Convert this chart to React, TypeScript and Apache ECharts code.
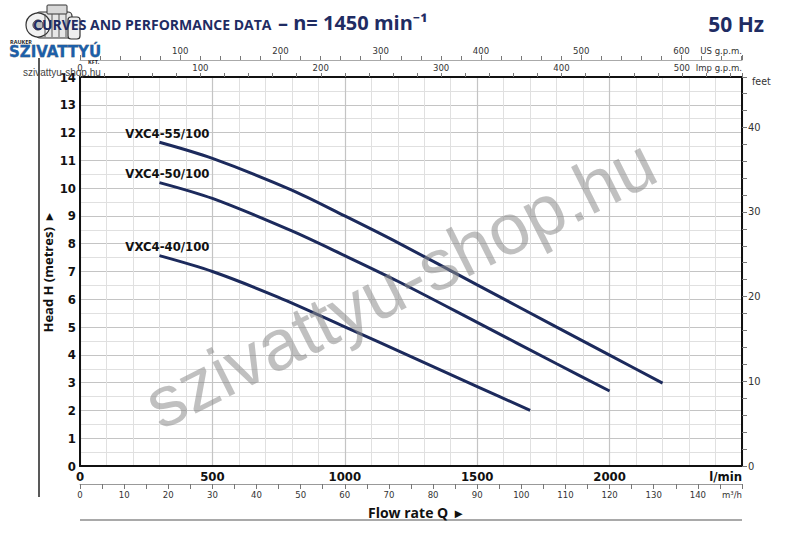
import React, { useEffect, useRef } from 'react';
import * as echarts from 'echarts';

// ---- data ----
const curveNames = ['VXC4-55/100', 'VXC4-50/100', 'VXC4-40/100'];
const flow55 = [300, 500, 800, 1000, 1200, 1500, 1800, 2000, 2200];
const head55 = [11.65, 11.07, 9.93, 9.0, 8.04, 6.52, 5.0, 3.99, 2.98];
const flow50 = [300, 500, 800, 1000, 1200, 1500, 1800, 2000];
const head50 = [10.2, 9.63, 8.46, 7.57, 6.65, 5.17, 3.68, 2.7];
const flow40 = [300, 500, 750, 1000, 1250, 1500, 1700];
const head40 = [7.57, 7.0, 6.07, 5.01, 3.94, 2.86, 2.0];

const flowMaxLmin = 2500;
const headMaxM = 14;
const LMIN_TO_USGPM = 0.264172;
const LMIN_TO_IMPGPM = 0.219969;
const LMIN_TO_M3H = 0.06;
const M_TO_FT = 3.28084;

const titleText = 'CURVES AND PERFORMANCE DATA';
const speedText = '– n= 1450 min⁻¹';
const freqText = '50 Hz';
const watermark = 'szivattyu-shop.hu';

const NAVY = '#1f2c63';
const LINE = '#1c2a5c';
const COND = '"Liberation Sans Narrow", "DejaVu Sans Condensed", "Roboto Condensed", "Liberation Sans", sans-serif';
const SANS = '"Open Sans", "Noto Sans", sans-serif';

const curves = [
  { name: curveNames[0], flow: flow55, head: head55 },
  { name: curveNames[1], flow: flow50, head: head50 },
  { name: curveNames[2], flow: flow40, head: head40 },
];

export default function App() {
  const ref = useRef<HTMLDivElement>(null);
  useEffect(() => {
    if (!ref.current) return;
    const chart = echarts.init(ref.current, undefined, { renderer: 'svg' });
    const usMax = flowMaxLmin * LMIN_TO_USGPM;
    const impMax = flowMaxLmin * LMIN_TO_IMPGPM;
    const m3Max = flowMaxLmin * LMIN_TO_M3H;
    const ftMax = headMaxM * M_TO_FT;

    const smallLabel = { color: '#333', fontSize: 9.5, fontFamily: COND };

    chart.setOption({
      animation: false,
      backgroundColor: '#fff',
      grid: { left: 80, right: 58, top: 77, bottom: 70, containLabel: false, outerBoundsMode: 'none' },
      xAxis: [
        {
          type: 'value', position: 'bottom', min: 0, max: flowMaxLmin, interval: 500,
          axisLine: { onZero: false, lineStyle: { color: '#111', width: 2 } },
          axisTick: { show: false },
          axisLabel: {
            margin: 4, color: '#111', fontSize: 13, fontWeight: 'bold', fontFamily: COND,
            formatter: (v: number) => (v === flowMaxLmin ? 'l/min' : String(v)),
            alignMaxLabel: 'right',
          },
          splitLine: { show: true, lineStyle: { color: '#c4c4c4', width: 1.2 } },
          minorTick: { show: false, splitNumber: 5 },
          minorSplitLine: { show: true, lineStyle: { color: '#e0e0e0', width: 1 } },
        },
        {
          type: 'value', position: 'bottom', offset: 18, min: 0, max: m3Max, interval: 10,
          axisLine: { onZero: false, lineStyle: { color: '#999', width: 1 } },
          axisTick: { show: true, length: 5, lineStyle: { color: '#777' } },
          minorTick: { show: true, splitNumber: 2, length: 5, lineStyle: { color: '#777' } },
          axisLabel: {
            ...smallLabel, margin: 5,
            formatter: (v: number) => (v === m3Max ? 'm³/h' : String(v)),
            alignMaxLabel: 'right',
          },
          splitLine: { show: false },
        },
        {
          type: 'value', position: 'top', offset: 0, min: 0, max: impMax, interval: 100,
          axisLine: { onZero: false, lineStyle: { color: '#111', width: 2 } },
          axisTick: { show: true, length: 4, lineStyle: { color: '#777' } },
          minorTick: { show: true, splitNumber: 5, length: 4, lineStyle: { color: '#777' } },
          axisLabel: {
            ...smallLabel, margin: 5,
            formatter: (v: number) => (v === impMax ? 'Imp g.p.m.' : v % 100 === 0 ? String(v) : ''),
            alignMaxLabel: 'right',
          },
          splitLine: { show: false },
        },
        {
          type: 'value', position: 'top', offset: 17, min: 0, max: usMax, interval: 100,
          axisLine: { onZero: false, lineStyle: { color: '#aaa', width: 1 } },
          axisTick: { show: true, length: 5, lineStyle: { color: '#777' } },
          minorTick: { show: true, splitNumber: 5, length: 4, lineStyle: { color: '#777' } },
          axisLabel: {
            ...smallLabel, margin: 5,
            formatter: (v: number) => (v === usMax ? 'US g.p.m.' : v === 0 ? '' : v % 100 === 0 ? String(v) : ''),
            alignMaxLabel: 'right',
          },
          splitLine: { show: false },
        },
      ],
      yAxis: [
        {
          type: 'value', position: 'left', min: 0, max: headMaxM, interval: 1,
          axisLine: { onZero: false, lineStyle: { color: '#111', width: 2 } },
          axisTick: { show: false },
          axisLabel: { margin: 4, color: '#111', fontSize: 13, fontWeight: 'bold', fontFamily: COND },
          splitLine: { show: true, lineStyle: { color: '#c4c4c4', width: 1.2 } },
          minorTick: { show: false, splitNumber: 2 },
          minorSplitLine: { show: true, lineStyle: { color: '#e0e0e0', width: 1 } },
        },
        {
          type: 'value', position: 'right', min: 0, max: ftMax, interval: 10,
          axisLine: { onZero: false, lineStyle: { color: '#111', width: 2 } },
          axisTick: { show: true, length: 5, lineStyle: { color: '#777' } },
          minorTick: { show: true, splitNumber: 5, length: 5, lineStyle: { color: '#777' } },
          axisLabel: {
            ...smallLabel, fontSize: 11, margin: 6,
            formatter: (v: number) => (v % 10 === 0 ? String(v) : ''),
          },
          splitLine: { show: false },
          name: 'feet', nameLocation: 'end', nameGap: -4,
          nameTextStyle: { ...smallLabel, fontSize: 10.5, align: 'left', verticalAlign: 'middle', padding: [0, 0, 0, 10] },
        },
      ],
      series: curves.map((c) => ({
        type: 'line',
        name: c.name,
        xAxisIndex: 0,
        yAxisIndex: 0,
        smooth: 0.3,
        symbol: 'none',
        showSymbol: false,
        data: c.flow.map((f, i) => [f, c.head[i]]),
        lineStyle: { color: LINE, width: 3 },
        z: 3,
        markPoint: {
          symbol: 'circle',
          symbolSize: 0,
          silent: true,
          data: [{ coord: [c.flow[0], c.head[0]], name: c.name }],
          label: {
            show: true,
            formatter: c.name,
            position: 'inside',
            offset: [8, -9],
            color: '#111',
            fontSize: 13,
            fontWeight: 'bold',
            fontFamily: COND,
          },
        },
      })),
      graphic: [
        // title
        { type: 'text', x: 33, y: 24, z: 10, style: { text: titleText, fill: NAVY, fontSize: 14, fontWeight: 'bold', fontFamily: SANS, align: 'left', verticalAlign: 'middle' } },
        { type: 'text', x: 278, y: 22, z: 10, style: { text: speedText, fill: NAVY, fontSize: 20, fontWeight: 'bold', fontFamily: SANS, align: 'left', verticalAlign: 'middle' } },
        { type: 'text', x: 764, y: 24, z: 10, style: { text: freqText, fill: NAVY, fontSize: 21, fontWeight: 'bold', fontFamily: SANS, align: 'right', verticalAlign: 'middle' } },
        // logo (motor sketch)
        {
          type: 'group', z: 20, children: [
            { type: 'rect', shape: { x: 36, y: 12, width: 36, height: 26, r: 4 }, style: { fill: '#e6e6e6', stroke: '#333', lineWidth: 1.2 } },
            { type: 'circle', shape: { cx: 38, cy: 25, r: 12 }, style: { fill: '#f2f2f2', stroke: '#333', lineWidth: 1.2 } },
            { type: 'rect', shape: { x: 47, y: 5, width: 20, height: 9, r: 1 }, style: { fill: '#d8d8d8', stroke: '#333', lineWidth: 1 } },
            { type: 'rect', shape: { x: 68, y: 17, width: 12, height: 22, r: 3 }, style: { fill: '#eee', stroke: '#333', lineWidth: 1.2 } },
            { type: 'line', shape: { x1: 45, y1: 14, x2: 45, y2: 37 }, style: { stroke: '#555', lineWidth: 1 } },
            { type: 'line', shape: { x1: 52, y1: 14, x2: 52, y2: 37 }, style: { stroke: '#555', lineWidth: 1 } },
            { type: 'line', shape: { x1: 59, y1: 14, x2: 59, y2: 37 }, style: { stroke: '#555', lineWidth: 1 } },
            { type: 'line', shape: { x1: 66, y1: 14, x2: 66, y2: 37 }, style: { stroke: '#555', lineWidth: 1 } },
            { type: 'circle', shape: { cx: 38, cy: 25, r: 5 }, style: { fill: '#bbb', stroke: '#333', lineWidth: 1 } },
          ],
        },
        { type: 'text', x: 10, y: 42, z: 20, style: { text: 'RAUKER', fill: '#222', fontSize: 5.5, fontWeight: 'bold', fontFamily: SANS, align: 'left', verticalAlign: 'middle' } },
        { type: 'text', x: 9, y: 52, z: 20, style: { text: 'SZIVATTYÚ', fill: '#1d5fa8', stroke: '#123', lineWidth: 0.3, fontSize: 15, fontWeight: 'bold', fontFamily: '"DejaVu Sans", sans-serif', align: 'left', verticalAlign: 'middle' } },
        { type: 'text', x: 88, y: 62, z: 20, style: { text: 'KFT.', fill: '#222', fontSize: 5.5, fontWeight: 'bold', fontFamily: SANS, align: 'left', verticalAlign: 'middle' } },
        { type: 'text', x: 23, y: 72, z: 20, style: { text: watermark, fill: '#444', fontSize: 10, fontFamily: '"Liberation Sans", sans-serif', align: 'left', verticalAlign: 'middle' } },
        // frame lines
        { type: 'line', z: 5, shape: { x1: 39, y1: 58, x2: 39, y2: 497 }, style: { stroke: '#222', lineWidth: 1.5 } },
        { type: 'line', z: 5, shape: { x1: 80, y1: 520, x2: 742, y2: 520 }, style: { stroke: '#555', lineWidth: 1.2 } },
        // axis titles
        { type: 'text', x: 48, y: 273, rotation: Math.PI / 2, z: 10, style: { text: 'Head H (metres)  ▸', fill: '#111', fontSize: 13, fontWeight: 'bold', fontFamily: SANS, align: 'center', verticalAlign: 'middle' } },
        { type: 'text', x: 368, y: 512, z: 10, style: { text: 'Flow rate Q  ▸', fill: '#111', fontSize: 14, fontWeight: 'bold', fontFamily: SANS, align: 'left', verticalAlign: 'middle' } },
        // watermark
        { type: 'text', x: 400, y: 283, rotation: 0.465, z: 50, style: { text: watermark, fill: 'rgba(140,140,140,0.55)', fontSize: 72, fontFamily: '"Liberation Sans", sans-serif', align: 'center', verticalAlign: 'middle' } },
      ],
    });
    return () => chart.dispose();
  }, []);
  return <div ref={ref} style={{ position: 'fixed', left: 0, top: 0, width: 800, height: 536 }} />;
}
